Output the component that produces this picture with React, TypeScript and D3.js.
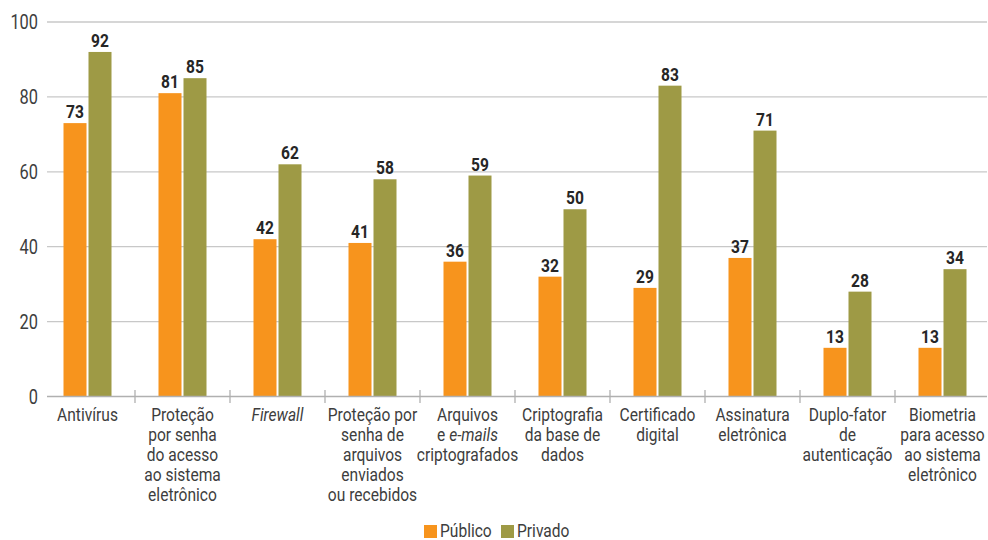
import React from "react";
import * as d3 from "d3";

type Seg = { t: string; i?: boolean };
const categories: Seg[][][] = [
  [[{ t: "Antivírus" }]],
  [[{ t: "Proteção" }], [{ t: "por senha" }], [{ t: "do acesso" }], [{ t: "ao sistema" }], [{ t: "eletrônico" }]],
  [[{ t: "Firewall", i: true }]],
  [[{ t: "Proteção por" }], [{ t: "senha de" }], [{ t: "arquivos" }], [{ t: "enviados" }], [{ t: "ou recebidos" }]],
  [[{ t: "Arquivos" }], [{ t: "e " }, { t: "e-mails", i: true }], [{ t: "criptografados" }]],
  [[{ t: "Criptografia" }], [{ t: "da base de" }], [{ t: "dados" }]],
  [[{ t: "Certificado" }], [{ t: "digital" }]],
  [[{ t: "Assinatura" }], [{ t: "eletrônica" }]],
  [[{ t: "Duplo-fator" }], [{ t: "de" }], [{ t: "autenticação" }]],
  [[{ t: "Biometria" }], [{ t: "para acesso" }], [{ t: "ao sistema" }], [{ t: "eletrônico" }]],
];
const publico = [73, 81, 42, 41, 36, 32, 29, 37, 13, 13];
const privado = [92, 85, 62, 58, 59, 50, 83, 71, 28, 34];
const yTicks = [0, 20, 40, 60, 80, 100];
const seriesNames = ["Público", "Privado"];
const colors = ["#F7941D", "#9E9A45"];

const FONT = "Roboto, 'DejaVu Sans Condensed', sans-serif";
const SX = 0.82;

function T(props: { x: number; y: number; anchor?: string; size: number; bold?: boolean; fill: string; children: React.ReactNode }) {
  return (
    <g transform={`translate(${props.x},${props.y}) scale(${SX},1)`}>
      <text x={0} y={0} textAnchor={props.anchor || "start"} fontSize={props.size} fontWeight={props.bold ? "bold" : "normal"} fill={props.fill}>
        {props.children}
      </text>
    </g>
  );
}

export default function App() {
  const W = 988, H = 540;
  const x = d3.scaleBand<number>().domain(d3.range(categories.length)).range([40, 990]);
  const y = d3.scaleLinear().domain([0, 100]).range([396.5, 22]);
  const barW = 23, gap = 2;
  const lineL = 47, lineR = 987;
  const series = [publico, privado];
  return (
    <svg width={W} height={H} style={{ position: "absolute", left: 0, top: 0, fontFamily: FONT }}>
      <rect width={W} height={H} fill="#fff" />
      {yTicks.filter((t) => t > 0).map((t) => (
        <line key={t} x1={lineL} x2={lineR} y1={y(t)} y2={y(t)} stroke="#c8c8c8" strokeWidth={1.3} />
      ))}
      {yTicks.map((t) => (
        <T key={t} x={38} y={y(t) + 7} anchor="end" size={20} fill="#3d3d3d">{t}</T>
      ))}
      {series.map((vals, si) =>
        vals.map((v, i) => {
          const cx = x(i)! + x.bandwidth() / 2;
          const bx = si === 0 ? cx - gap / 2 - barW : cx + gap / 2;
          return (
            <g key={si + "-" + i}>
              <rect x={bx} y={y(v)} width={barW} height={y(0) - y(v)} fill={colors[si]} />
              <T x={bx + barW / 2} y={y(v) - 5} anchor="middle" size={19} bold fill="#262626">{v}</T>
            </g>
          );
        })
      )}
      <line x1={lineL} x2={lineR} y1={y(0)} y2={y(0)} stroke="#b0b0b0" strokeWidth={1.3} />
      {d3.range(1, categories.length).map((i) => (
        <line key={i} x1={x(i)!} x2={x(i)!} y1={390} y2={403} stroke="#b0b0b0" strokeWidth={1.3} />
      ))}
      {categories.map((lines, i) =>
        lines.map((segs, li) => (
          <T key={i + "-" + li} x={x(i)! + x.bandwidth() / 2} y={421 + li * 20} anchor="middle" size={19} fill="#3d3d3d">
            {segs.map((s, k) => (
              <tspan key={k} fontStyle={s.i ? "italic" : "normal"}>{s.t}</tspan>
            ))}
          </T>
        ))
      )}
      {seriesNames.map((n, si) => {
        const lx = si === 0 ? 424 : 501;
        return (
          <g key={n}>
            <rect x={lx} y={525} width={13} height={13} fill={colors[si]} />
            <T x={lx + 16} y={537} size={19} fill="#3d3d3d">{n}</T>
          </g>
        );
      })}
    </svg>
  );
}
